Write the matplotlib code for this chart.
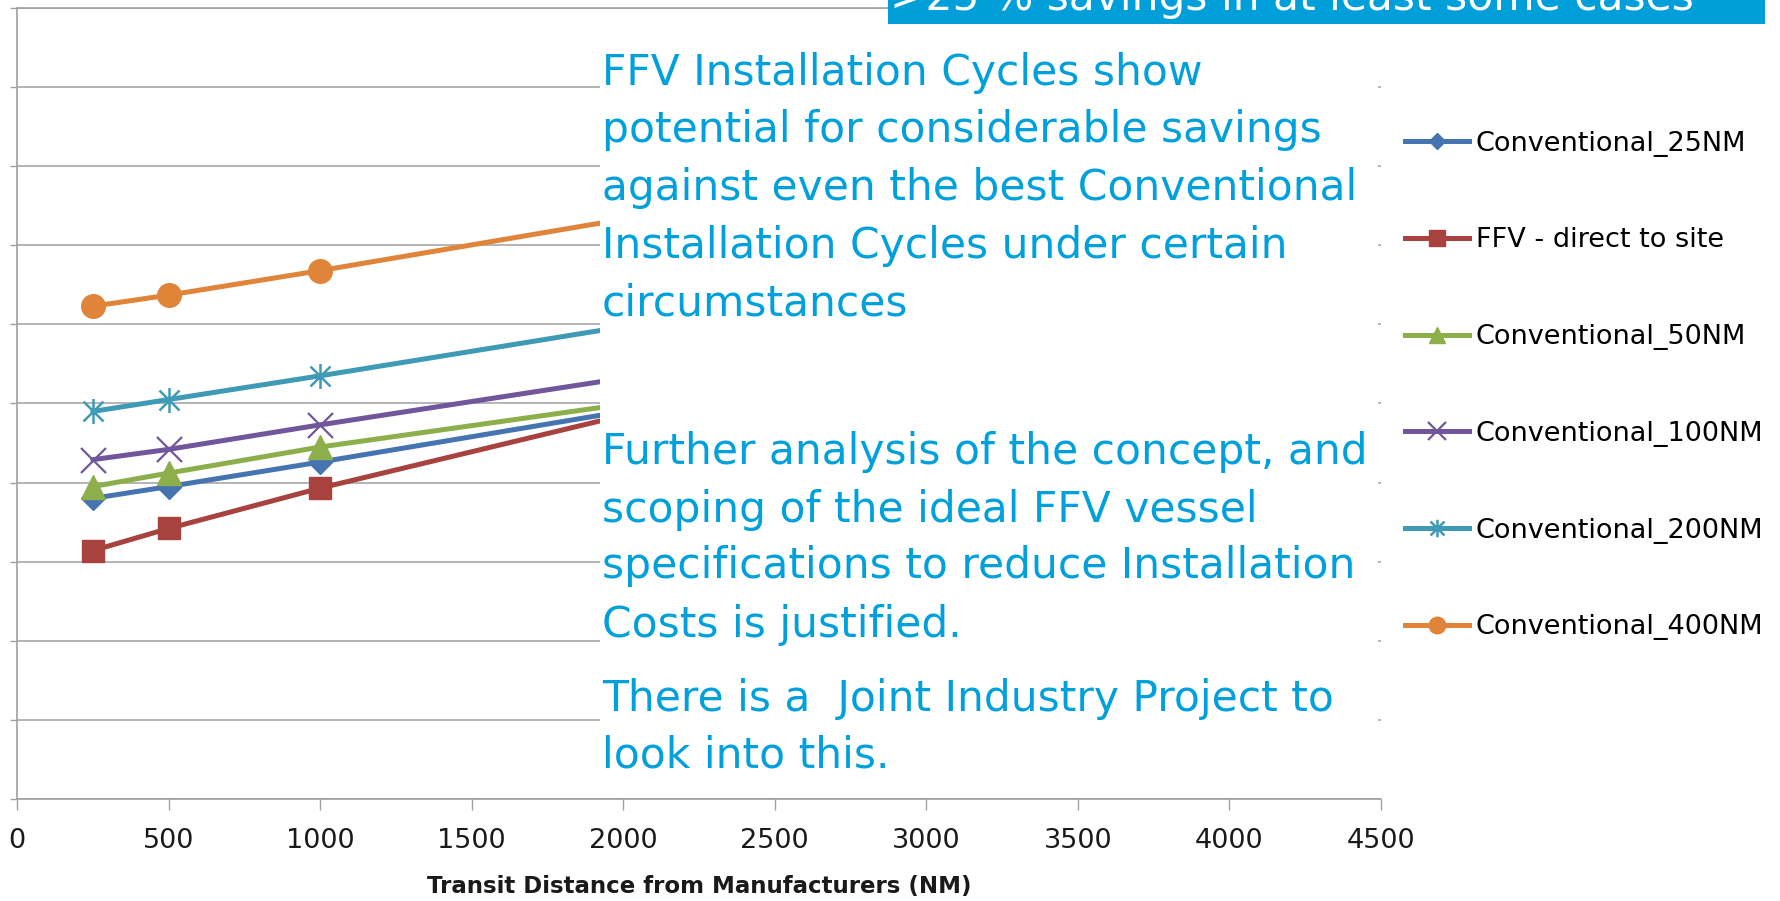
import matplotlib
matplotlib.use('Agg')
import matplotlib.pyplot as plt
from matplotlib.lines import Line2D
from matplotlib.patches import Rectangle
from matplotlib.path import Path

# values (y in grid-line units, the axis labels are cut off)
distance_nm = [250, 500, 1000, 2000]
conventional_25nm = [3.80, 3.95, 4.26, 4.90]
ffv_direct = [3.14, 3.42, 3.93, 4.85]
conventional_50nm = [3.95, 4.12, 4.45, 4.99]
conventional_100nm = [4.29, 4.42, 4.73, 5.32]
conventional_200nm = [4.90, 5.05, 5.35, 5.97]
conventional_400nm = [6.23, 6.37, 6.68, 7.33]

series_names = ['Conventional_25NM', 'FFV - direct to site', 'Conventional_50NM',
                'Conventional_100NM', 'Conventional_200NM', 'Conventional_400NM']
x_ticks = [0, 500, 1000, 1500, 2000, 2500, 3000, 3500, 4000, 4500]

para1 = ['FFV Installation Cycles show',
         'potential for considerable savings',
         'against even the best Conventional',
         'Installation Cycles under certain',
         'circumstances']
para2 = ['Further analysis of the concept, and',
         'scoping of the ideal FFV vessel',
         'specifications to reduce Installation',
         'Costs is justified.']
para3 = ['There is a  Joint Industry Project to',
         'look into this.']
banner_text = '>25 % savings in at least some cases'

W, H = 1781, 901
fig = plt.figure(figsize=(W / 100, H / 100), dpi=100, facecolor='white')


def fx(px):
    return px / W


def fy(py):
    return 1 - py / H


# excel style star: vertical bar plus a cross
star = Path([(0, -1), (0, 1), (-0.8, -0.8), (0.8, 0.8), (-0.8, 0.8), (0.8, -0.8)],
            [Path.MOVETO, Path.LINETO] * 3)

styles = [
    dict(color='#4674B0', marker='D', ms=12, mew=1),
    dict(color='#A8423F', marker='s', ms=16.5, mew=1),
    dict(color='#8CAF4B', marker='^', ms=17, mew=1),
    dict(color='#71569B', marker='x', ms=18, mew=1.6),
    dict(color='#3F9AB5', marker=star, ms=18, mew=1.8),
    dict(color='#E0843A', marker='o', ms=17, mew=1),
]
all_series = [conventional_25nm, ffv_direct, conventional_50nm,
              conventional_100nm, conventional_200nm, conventional_400nm]

ax = fig.add_axes([fx(17), fy(799), (1381 - 17) / W, (799 - 8) / H])
for vals, st in zip(all_series, styles):
    ax.plot(distance_nm, vals, color=st['color'], lw=3.6, marker=st['marker'],
            ms=st['ms'], mew=st['mew'], mec=st['color'], mfc=st['color'],
            solid_capstyle='round')

ax.set_xlim(0, 4500)
ax.set_ylim(0, 10)
ax.set_xticks(x_ticks)
ax.set_xticklabels([str(t) for t in x_ticks], fontsize=19.5, color='#1a1a1a')
ax.set_yticks(range(0, 11))
ax.set_yticklabels([])
ax.yaxis.grid(True, color='#A0A0A0', lw=1.1)
ax.tick_params(axis='x', length=8, width=1, color='#A0A0A0', pad=13)
ax.tick_params(axis='y', length=5, width=1, color='#A0A0A0')
for side in ['left', 'bottom', 'top']:
    ax.spines[side].set_color('#A0A0A0')
    ax.spines[side].set_linewidth(1.2)
ax.spines['right'].set_visible(False)

fig.text(fx(699), fy(886), 'Transit Distance from Manufacturers (NM)', ha='center',
         va='center', fontsize=16.5, fontweight='bold', color='#1a1a1a')

# white text box laid over the chart
fig.patches.append(Rectangle((fx(600), fy(790)), (1378 - 600) / W, (790 - 40) / H,
                             transform=fig.transFigure, fc='white', ec='none', zorder=2))
# blue banner at the top, its text runs off the top edge as in the slide
fig.patches.append(Rectangle((fx(888), fy(24)), (1765 - 888) / W, 24 / H,
                             transform=fig.transFigure, fc='#009FDA', ec='none', zorder=2))
fig.text(fx(890), fy(10), banner_text, fontsize=30.5, color='white', va='baseline', zorder=4)

blue = '#00A0DC'
for lines, baselines in [(para1, [85, 142, 200, 258, 316]),
                         (para2, [464, 522, 578, 637]),
                         (para3, [711, 768])]:
    for line, yb in zip(lines, baselines):
        fig.text(fx(602), fy(yb), line, fontsize=30.5, color=blue, va='baseline', zorder=4)

handles = [Line2D([0], [0], color=st['color'], lw=3.6, marker=st['marker'],
                  ms=st['ms'] * 0.7, mew=st['mew'], mec=st['color'], mfc=st['color'])
           for st in styles]
fig.legend(handles, series_names, loc='center left', bbox_to_anchor=(fx(1405), fy(385.5)),
           frameon=False, fontsize=19.5, handlelength=2.36, handletextpad=0.26,
           labelspacing=2.61, borderpad=0, borderaxespad=0)

fig.savefig('out.png', dpi=100, facecolor='white')
